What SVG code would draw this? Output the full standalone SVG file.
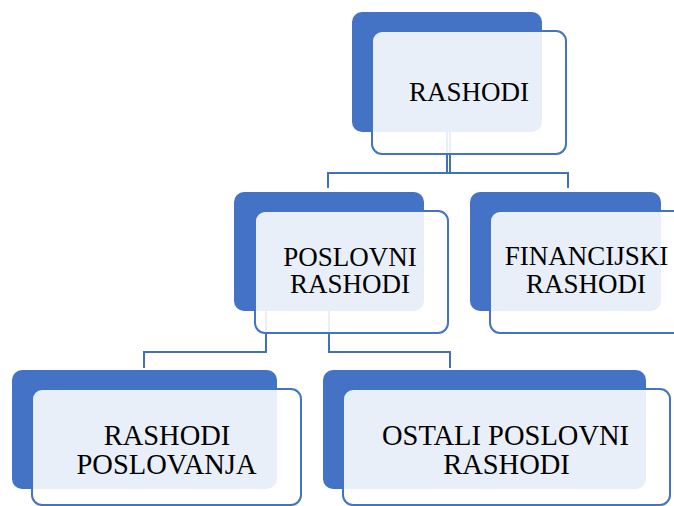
<svg xmlns="http://www.w3.org/2000/svg" width="674" height="506" viewBox="0 0 674 506">
<style>
.back{fill:#4472C4;}
.front{fill:#FFFFFF;fill-opacity:0.885;stroke:#4472C4;stroke-width:2;}
.conn{fill:none;stroke:#4170BD;stroke-width:2;}
.t{font-family:"Liberation Serif","Times New Roman",serif;font-size:27px;fill:#000;text-anchor:middle;}
.tb{font-size:28.5px;}
</style>
<rect width="674" height="506" fill="#FFFFFF"/>
<g id="connectors">
<path class="conn" d="M447 131 V173 M450 131 V173 M328 188 V173 H568 V188"/>
<path class="conn" d="M266 311 V352 H144 V368"/>
<path class="conn" d="M329 311 V352 H450 V368"/>
</g>
<g id="n-rashodi">
<rect class="back" x="352" y="12" width="190" height="120" rx="10"/>
<rect class="front" x="372" y="31" width="194" height="123" rx="10"/>
<text class="t" x="469" y="101">RASHODI</text>
</g>
<g id="n-poslovni">
<rect class="back" x="234" y="192" width="190" height="119" rx="10"/>
<rect class="front" x="255" y="211" width="193" height="122" rx="10"/>
<text class="t" x="350" y="266">POSLOVNI</text>
<text class="t" x="350" y="293">RASHODI</text>
</g>
<g id="n-financijski">
<rect class="back" x="470" y="192" width="191" height="119" rx="10"/>
<rect class="front" x="490" y="211" width="194" height="122" rx="10"/>
<text class="t" x="586.5" y="265">FINANCIJSKI</text>
<text class="t" x="586" y="293">RASHODI</text>
</g>
<g id="n-rashodi-poslovanja">
<rect class="back" x="12" y="370" width="265" height="119" rx="10"/>
<rect class="front" x="32" y="389" width="269" height="116" rx="10"/>
<text class="t tb" x="167" y="445">RASHODI</text>
<text class="t tb" x="166.5" y="474">POSLOVANJA</text>
</g>
<g id="n-ostali">
<rect class="back" x="323" y="370" width="323" height="119" rx="10"/>
<rect class="front" x="343" y="389" width="327" height="116" rx="10"/>
<text class="t tb" x="505.5" y="445">OSTALI POSLOVNI</text>
<text class="t tb" x="506.5" y="474">RASHODI</text>
</g>
</svg>
